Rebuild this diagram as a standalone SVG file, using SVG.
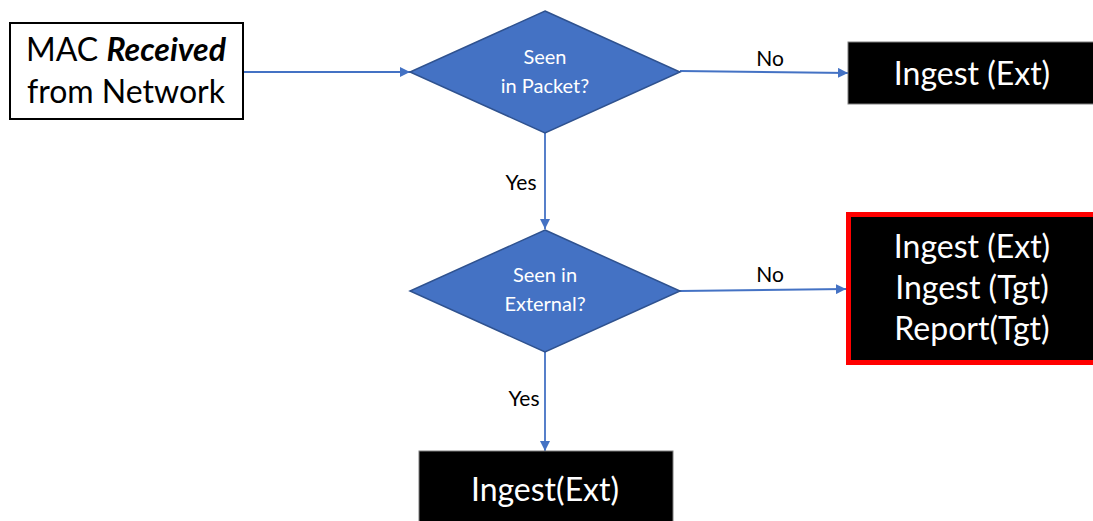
<svg xmlns="http://www.w3.org/2000/svg" width="1093" height="521" viewBox="0 0 1093 521">
  <style>
    .lbl { font-family: Lato, "Open Sans", sans-serif; }
    .box-text { font-size: 32px; fill: #000; }
    .out-text { font-size: 32px; fill: #fff; }
    .dia-text { font-size: 20px; fill: #fff; }
    .edge-text { font-size: 21px; fill: #000; }
    .diamond { fill: #4472C4; stroke: #2F528F; stroke-width: 1.5; }
    .out { fill: #000; stroke: #7f7f7f; stroke-width: 1; }
    .conn { stroke: #4472C4; stroke-width: 1.8; fill: none; }
  </style>
  <defs>
    <marker id="arrow" viewBox="0 0 10 10" refX="10" refY="5" markerWidth="10" markerHeight="10" markerUnits="userSpaceOnUse" orient="auto">
      <path d="M0,0 L10,5 L0,10 z" fill="#4472C4"/>
    </marker>
  </defs>
  <rect width="1093" height="521" fill="#fff"/>

  <g id="connectors">
    <line class="conn" x1="243" y1="72" x2="410" y2="72" marker-end="url(#arrow)"/>
    <line class="conn" x1="680" y1="71" x2="848" y2="73" marker-end="url(#arrow)"/>
    <line class="conn" x1="545" y1="133" x2="545" y2="229" marker-end="url(#arrow)"/>
    <line class="conn" x1="680" y1="291" x2="846" y2="289" marker-end="url(#arrow)"/>
    <line class="conn" x1="545" y1="352" x2="545" y2="451" marker-end="url(#arrow)"/>
    <text class="lbl edge-text" x="770" y="66" text-anchor="middle">No</text>
    <text class="lbl edge-text" x="770" y="282" text-anchor="middle">No</text>
    <text class="lbl edge-text" x="521" y="190" text-anchor="middle">Yes</text>
    <text class="lbl edge-text" x="524" y="406" text-anchor="middle">Yes</text>
  </g>

  <g id="start">
    <rect x="10" y="23" width="233" height="96" fill="#fff" stroke="#000" stroke-width="2"/>
    <text class="lbl box-text" x="126" y="61" text-anchor="middle">MAC <tspan font-weight="bold" font-style="italic">Received</tspan></text>
    <text class="lbl box-text" x="126" y="103" text-anchor="middle">from Network</text>
  </g>

  <g id="seen-packet">
    <polygon class="diamond" points="545,11 680,72 545,133 410,72"/>
    <text class="lbl dia-text" x="545" y="64" text-anchor="middle">Seen</text>
    <text class="lbl dia-text" x="545" y="93" text-anchor="middle">in Packet?</text>
  </g>

  <g id="seen-external">
    <polygon class="diamond" points="545,230 680,291 545,352 410,291"/>
    <text class="lbl dia-text" x="545" y="282" text-anchor="middle">Seen in</text>
    <text class="lbl dia-text" x="545" y="311" text-anchor="middle">External?</text>
  </g>

  <g id="ingest-ext-top">
    <rect class="out" x="848" y="42" width="246" height="62"/>
    <text class="lbl out-text" x="972" y="85" text-anchor="middle">Ingest (Ext)</text>
  </g>

  <g id="ingest-report">
    <rect x="848.5" y="214.5" width="247" height="148" fill="#000" stroke="#ff0000" stroke-width="5"/>
    <text class="lbl out-text" x="972" y="258" text-anchor="middle">Ingest (Ext)</text>
    <text class="lbl out-text" x="972" y="299" text-anchor="middle">Ingest (Tgt)</text>
    <text class="lbl out-text" x="972" y="340" text-anchor="middle">Report(Tgt)</text>
  </g>

  <g id="ingest-ext-bottom">
    <rect class="out" x="419" y="451" width="254" height="72"/>
    <text class="lbl out-text" x="545" y="501" text-anchor="middle">Ingest(Ext)</text>
  </g>
</svg>
